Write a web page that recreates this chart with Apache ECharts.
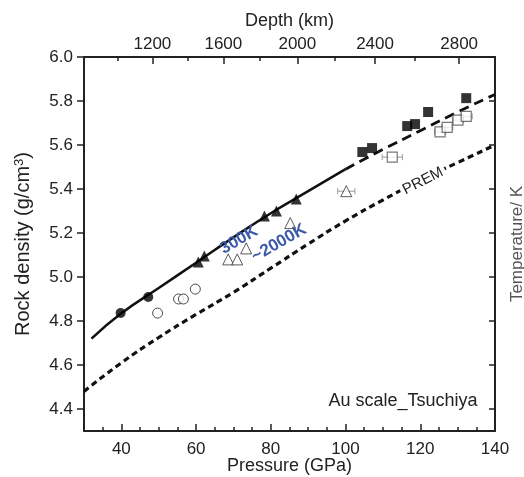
<!DOCTYPE html>
<html>
<head>
<meta charset="utf-8">
<script src="https://cdn.jsdelivr.net/npm/echarts@6/dist/echarts.min.js"></script>
<style>html,body{margin:0;padding:0;background:#fff}#chart{width:524px;height:477px}</style>
</head>
<body>
<div id="chart"></div>
<script>
// values: pressure (GPa) -> rock density (g/cm3)
var curvePressure = [32, 40, 50, 60, 70, 80, 90, 100, 110, 120, 130, 140]
var curve300K = [4.72, 4.835, 4.95, 5.065, 5.18, 5.29, 5.39, 5.49, 5.58, 5.665, 5.75, 5.83]
var premPressure = [30, 40, 50, 60, 70, 80, 90, 100, 110, 120, 130, 140]
var premDensity = [4.48, 4.61, 4.725, 4.83, 4.93, 5.04, 5.15, 5.255, 5.35, 5.44, 5.52, 5.60]

var filledCircles = [[39.8, 4.836], [47.2, 4.909]]
var openCircles = [[49.7, 4.836], [55.3, 4.90], [56.6, 4.90], [59.8, 4.945]]
var filledTriangles = [[60.6, 5.068], [62.2, 5.095], [78.3, 5.277], [81.5, 5.30], [86.8, 5.355]]
var openTriangles = [[68.6, 5.08], [71.0, 5.08], [73.4, 5.13], [85.2, 5.245], [100.2, 5.39]]
var filledSquares = [[104.5, 5.568], [107.1, 5.586], [116.5, 5.686], [118.6, 5.695], [122.1, 5.75], [132.3, 5.813]]
var openSquares = [[112.5, 5.545], [125.3, 5.66], [127.2, 5.68], [130.1, 5.713], [132.3, 5.73]]
// horizontal error bars: pressure, density, +/- GPa
var errorBars = [[100.2, 5.39, 2.3], [112.5, 5.545, 2.7], [125.3, 5.66, 1.5], [127.2, 5.68, 1.5], [130.1, 5.713, 1.5], [132.3, 5.73, 1.6]]

// tick labels
var pressureTicks = [40, 60, 80, 100, 120, 140]
var pressureMinor = [35, 45, 50, 55, 65, 70, 75, 85, 90, 95, 105, 110, 115, 125, 130, 135]
var depthLabels = [1200, 1600, 2000, 2400, 2800]
var depthLabelPressure = [48.3, 67.3, 87.1, 107.9, 130.4]
var depthMinorPressure = [39.0, 57.7, 77.0, 97.2, 118.6]   // 1000, 1400, 1800, 2200, 2600 km
var densityTicks = [4.4, 4.6, 4.8, 5.0, 5.2, 5.4, 5.6, 5.8, 6.0]

var font = 'Liberation Sans, Arial, sans-serif'
var ink = '#222'

function pairs(xs, ys) {
	return xs.map(function (x, i) { return [x, ys[i]] })
}
var solidPart = pairs(curvePressure, curve300K).filter(function (d) { return d[0] <= 100 })
var dashPart = pairs(curvePressure, curve300K).filter(function (d) { return d[0] >= 100 })

var myChart = echarts.init(document.getElementById('chart'))

var frameLine = {show: true, lineStyle: {color: ink, width: 2}}
var noLine = {show: false}

var option = {
	animation: false,
	backgroundColor: '#fff',
	textStyle: {fontFamily: font},
	grid: {left: 84, right: 29, top: 57, bottom: 46, outerBoundsMode: 'none', containLabel: false},
	xAxis: [
		{
			type: 'value', position: 'bottom', min: 30, max: 140,
			name: 'Pressure (GPa)', nameLocation: 'middle', nameGap: 26, nameMoveOverlap: false,
			nameTextStyle: {fontSize: 18, color: ink, fontFamily: font},
			axisLine: frameLine,
			axisTick: {inside: true, length: 7, customValues: pressureTicks, lineStyle: {color: ink, width: 1.5}},
			axisLabel: {customValues: pressureTicks, fontSize: 17, color: ink, margin: 10, fontFamily: font},
			splitLine: {show: false}
		},
		{
			type: 'value', position: 'top', min: 30, max: 140,
			name: 'Depth (km)', nameLocation: 'middle', nameGap: 27,
			nameTextStyle: {fontSize: 18, color: ink, fontFamily: font},
			axisLine: frameLine,
			axisTick: {inside: true, length: 7, customValues: depthLabelPressure, lineStyle: {color: ink, width: 1.5}},
			axisLabel: {
				customValues: depthLabelPressure, fontSize: 17, color: ink, margin: 4, fontFamily: font,
				formatter: function (v) {
					var i = depthLabelPressure.indexOf(v)
					return i < 0 ? '' : String(depthLabels[i])
				}
			},
			splitLine: {show: false}
		},
		{
			type: 'value', position: 'bottom', min: 30, max: 140,
			axisLine: noLine, axisLabel: {show: false}, splitLine: {show: false},
			axisTick: {inside: true, length: 4, customValues: pressureMinor, lineStyle: {color: ink, width: 1.5}}
		},
		{
			type: 'value', position: 'top', min: 30, max: 140,
			axisLine: noLine, axisLabel: {show: false}, splitLine: {show: false},
			axisTick: {inside: true, length: 4, customValues: depthMinorPressure, lineStyle: {color: ink, width: 1.5}}
		}
	],
	yAxis: [
		{
			type: 'value', position: 'left', min: 4.3, max: 6.0,
			name: '{a|Rock density (g/cm}{s|3}{a|)}', nameLocation: 'middle', nameGap: 50, nameRotate: 90,
			nameTextStyle: {
				rich: {
					a: {fontSize: 20, color: ink, fontFamily: font},
					s: {fontSize: 13, color: ink, fontFamily: font, verticalAlign: 'top', padding: [0, 0, 8, 0]}
				}
			},
			axisLine: frameLine,
			axisTick: {inside: false, length: 7, customValues: densityTicks, lineStyle: {color: ink, width: 1.5}},
			axisLabel: {
				customValues: densityTicks, fontSize: 17, color: ink, margin: 11, fontFamily: font,
				formatter: function (v) { return v.toFixed(1) }
			},
			splitLine: {show: false}
		},
		{
			type: 'value', position: 'right', min: 4.3, max: 6.0,
			name: 'Temperature/ K', nameLocation: 'middle', nameGap: 14, nameRotate: 90,
			nameTextStyle: {fontSize: 17, color: '#555', fontFamily: font},
			axisLine: frameLine,
			axisTick: {inside: true, length: 6, customValues: densityTicks, lineStyle: {color: ink, width: 1.5}},
			axisLabel: {show: false},
			splitLine: {show: false}
		}
	],
	series: [
		{
			type: 'line', data: pairs(premPressure, premDensity), smooth: true, showSymbol: false,
			lineStyle: {color: '#111', width: 3.2, type: [6, 4]}, z: 2
		},
		{
			type: 'line', data: solidPart, smooth: true, showSymbol: false,
			lineStyle: {color: '#111', width: 2.5}, z: 2
		},
		{
			type: 'line', data: dashPart, smooth: true, showSymbol: false,
			lineStyle: {color: '#111', width: 2.8, type: [10, 6]}, z: 2
		},
		{
			type: 'custom', data: errorBars, z: 3,
			encode: {x: 0, y: 1},
			renderItem: function (params, api) {
				var p = api.value(0), d = api.value(1), e = api.value(2)
				var a = api.coord([p - e, d]), b = api.coord([p + e, d])
				var st = {stroke: '#999', lineWidth: 1}
				return {
					type: 'group',
					children: [
						{type: 'line', shape: {x1: a[0], y1: a[1], x2: b[0], y2: b[1]}, style: st},
						{type: 'line', shape: {x1: a[0], y1: a[1] - 3, x2: a[0], y2: a[1] + 3}, style: st},
						{type: 'line', shape: {x1: b[0], y1: b[1] - 3, x2: b[0], y2: b[1] + 3}, style: st}
					]
				}
			}
		},
		{type: 'scatter', data: filledCircles, symbol: 'circle', symbolSize: 10, z: 4,
			itemStyle: {color: '#000'}},
		{type: 'scatter', data: openCircles, symbol: 'circle', symbolSize: 10, z: 4,
			itemStyle: {color: '#fff', borderColor: '#222', borderWidth: 1}},
		{type: 'scatter', data: filledTriangles, symbol: 'triangle', symbolSize: 11, z: 4,
			itemStyle: {color: '#000'}},
		{type: 'scatter', data: openTriangles, symbol: 'triangle', symbolSize: 11, z: 4,
			itemStyle: {color: '#fff', borderColor: '#333', borderWidth: 1}},
		{type: 'scatter', data: filledSquares, symbol: 'rect', symbolSize: 10, z: 4,
			itemStyle: {color: '#000'}},
		{type: 'scatter', data: openSquares, symbol: 'rect', symbolSize: 10, z: 4,
			itemStyle: {color: '#fff', borderColor: '#555', borderWidth: 1.2}}
	],
	graphic: [
		{type: 'text', x: 239, y: 240, rotation: 30 * Math.PI / 180, z: 10,
			style: {text: '300K', font: 'bold 17px ' + font, fill: '#3d5aa8', align: 'center', verticalAlign: 'middle'}},
		{type: 'text', x: 279, y: 243, rotation: 30 * Math.PI / 180, z: 10,
			style: {text: '~2000K', font: 'bold 17px ' + font, fill: '#3d5aa8', align: 'center', verticalAlign: 'middle'}},
		{type: 'text', x: 423, y: 181, rotation: 27 * Math.PI / 180, z: 10,
			style: {text: 'PREM', font: '15px ' + font, fill: ink, align: 'center', verticalAlign: 'middle',
				backgroundColor: '#fff', padding: [0, 3]}},
		{type: 'text', x: 403, y: 401, z: 10,
			style: {text: 'Au scale_Tsuchiya', font: '18px ' + font, fill: ink, align: 'center', verticalAlign: 'middle'}}
	]
}

myChart.setOption(option)
</script>
</body>
</html>
